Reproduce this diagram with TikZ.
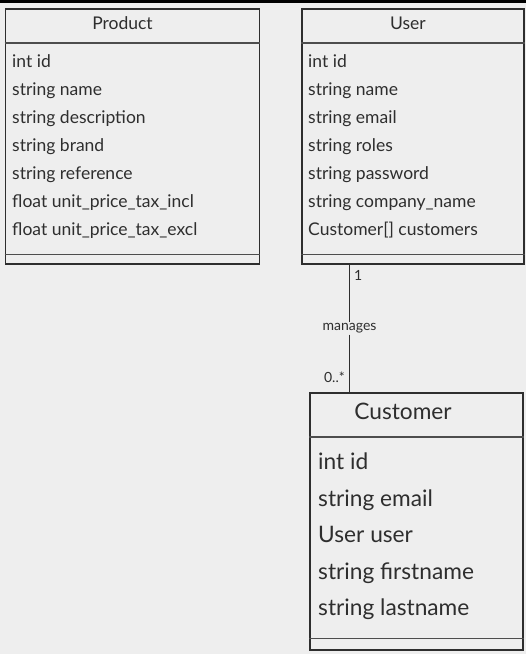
\documentclass[tikz,border=0pt]{standalone}
\usepackage{fontspec}
\setmainfont{Lato}
\usetikzlibrary{positioning}
\definecolor{bg}{HTML}{EEEEEE}
\definecolor{ink}{HTML}{2E2E2E}
\tikzset{
	classbox/.style={draw=ink, line width=1.6pt, anchor=north west, inner sep=0pt},
	classname/.style={anchor=base, font=\fontsize{17.5}{21}\selectfont, text=ink, inner sep=0pt},
	attr/.style={anchor=base west, font=\fontsize{17.5}{21}\selectfont, text=ink, inner sep=0pt},
	bigname/.style={anchor=base, font=\fontsize{22.7}{27}\selectfont, text=ink, inner sep=0pt},
	bigattr/.style={anchor=base west, font=\fontsize{22.7}{27}\selectfont, text=ink, inner sep=0pt},
	divider/.style={draw=ink!85, line width=1.2pt},
	assoc/.style={draw=ink, line width=1.6pt},
	small/.style={font=\fontsize{14}{16}\selectfont, text=ink, inner sep=1pt},
}

\begin{document}
\begin{tikzpicture}[x=1pt,y=-1pt]
		\fill[bg] (0,0) rectangle (526,654);
		\fill[black] (0,0) rectangle (526,2.5);
		\useasboundingbox (0,0) rectangle (526,654);

		% Product
		\node[classbox, minimum width=254pt, minimum height=255pt] (product) at (4.5,8) {};
		\node[classname] (productname) at (122.5,29.5) {Product};
		\draw[divider] ([yshift=-35pt]product.north west) -- ([yshift=-35pt]product.north east);
		\foreach \t [count=\i] in {int id, string name, string description, string brand, string reference, float unit\_price\_tax\_incl, float unit\_price\_tax\_excl}
			\node[attr] (product-\i) at (12, 39.5+28*\i) {\t};
		\draw[divider] ([yshift=10pt]product.south west) -- ([yshift=10pt]product.south east);

		% User
		\node[classbox, minimum width=222pt, minimum height=255pt] (user) at (301,8) {};
		\node[classname] (username) at (408,29.5) {User};
		\draw[divider] ([yshift=-35pt]user.north west) -- ([yshift=-35pt]user.north east);
		\foreach \t [count=\i] in {int id, string name, string email, string roles, string password, string company\_name, Customer[] customers}
			\node[attr] (user-\i) at (308, 39.5+28*\i) {\t};
		\draw[divider] ([yshift=10pt]user.south west) -- ([yshift=10pt]user.south east);

		% Customer
		\node[classbox, minimum width=213pt, minimum height=257pt] (customer) at (309,392) {};
		\node[bigname] (customername) at (403,419.5) {Customer};
		\draw[divider] ([yshift=-45pt]customer.north west) -- ([yshift=-45pt]customer.north east);
		\foreach \t [count=\i] in {int id, string email, User user, string firstname, string lastname}
			\node[bigattr] (customer-\i) at (318, 433+36.5*\i) {\t};
		\draw[divider] ([yshift=12pt]customer.south west) -- ([yshift=12pt]customer.south east);

		% association
		\node[small, fill=bg] (manages) at (349.5,328.5) {manages};
		\draw[assoc] (manages |- user.south) -- (manages.north);
		\draw[assoc] (manages.south) -- (manages |- customer.north);
		\node[small, anchor=west] (one) at (353,275) {1};
		\node[small, anchor=east] (many) at (346,377) {0..*};
\end{tikzpicture}
\end{document}
